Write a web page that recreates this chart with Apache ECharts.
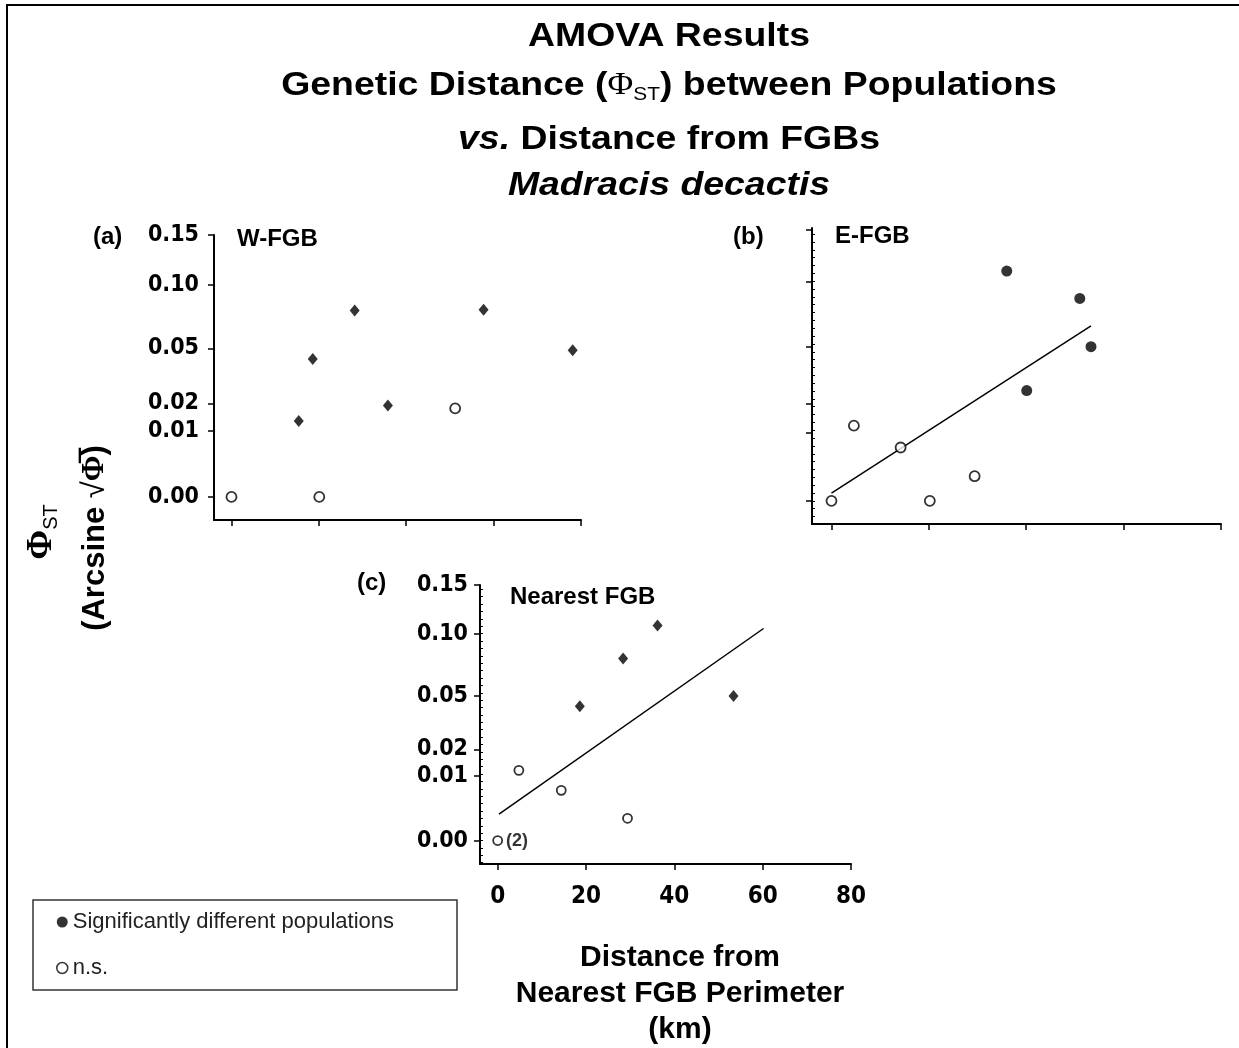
<!DOCTYPE html>
<html>
<head>
<meta charset="utf-8">
<title>AMOVA Results – Madracis decactis</title>
<script src="https://cdn.jsdelivr.net/npm/echarts@6/dist/echarts.min.js"></script>
<style>
  html, body { margin: 0; padding: 0; background: #fff; }
  #chart { width: 1239px; height: 1048px; }
</style>
</head>
<body>
<div id="chart"></div>
<script>
// Distance from FGB perimeter (km) and pairwise Φst per population, three panels.
const xTicks = [0, 20, 40, 60, 80];
const xTickLabels = ['0', '20', '40', '60', '80'];
const yTickValues = [0, 0.01, 0.02, 0.05, 0.10, 0.15];
const yTickLabels = ['0.00', '0.01', '0.02', '0.05', '0.10', '0.15'];

// (a) W-FGB
const wSigX   = [15.4, 18.6, 28.2, 35.8, 57.7, 78.1];
const wSigPhi = [0.0132, 0.0433, 0.0780, 0.0192, 0.0787, 0.0488];
const wNsX    = [0, 20.1, 51.2];
const wNsPhi  = [0, 0, 0.0180];

// (b) E-FGB
const eSigX   = [36.0, 40.1, 51.0, 53.3];
const eSigPhi = [0.1092, 0.0259, 0.0855, 0.0502];
const eNsX    = [0, 4.6, 14.2, 20.2, 29.4];
const eNsPhi  = [0, 0.0121, 0.0061, 0, 0.0013];
const eTrendX   = [0, 53.3];
const eTrendPhi = [0.00013, 0.0643];

// (c) Nearest FGB
const nSigX   = [18.6, 28.4, 36.2, 53.4];
const nSigPhi = [0.0431, 0.0781, 0.1078, 0.0497];
const nNsX    = [0, 4.8, 14.4, 29.4];
const nNsPhi  = [0, 0.0119, 0.0061, 0.0012];
const nNsNote = ['(2)', '', '', ''];
const nTrendX   = [0.3, 60.2];
const nTrendPhi = [0.0017, 0.105];

const SIG = 'Significantly different populations';
const NS = 'n.s.';

const FONT = "'Liberation Sans', Arial, Helvetica, sans-serif";
const SERIF = "'Liberation Serif', 'Times New Roman', serif";
const NARROW = "'Liberation Sans Narrow', 'Arial Narrow', 'DejaVu Sans Condensed', sans-serif";

// Φst is plotted on the arcsine square-root scale
const asr = v => Math.asin(Math.sqrt(v));
const pairs = (xs, ys) => xs.map((x, i) => [x, asr(ys[i])]);

const majorY = yTickValues.map(asr);
const yLabelFor = value => {
  const i = majorY.findIndex(t => Math.abs(t - value) < 1e-6);
  return i >= 0 ? yTickLabels[i] : '';
};
const xLabelFor = value => {
  const i = xTicks.indexOf(value);
  return i >= 0 ? xTickLabels[i] : '';
};

function minorTicks(min, max, step) {
  const out = [];
  for (let v = 0; v >= min; v -= step) out.unshift(v);
  for (let v = step; v <= max; v += step) out.push(v);
  return out;
}

const axisLine = { onZero: false, lineStyle: { color: '#000', width: 2 } };

function yMain(gridIndex, min, max, showLabels, margin) {
  return {
    type: 'value', gridIndex, min, max, position: 'left',
    axisLine,
    splitLine: { show: false },
    axisTick: { show: true, length: 6, customValues: majorY, lineStyle: { color: '#000', width: 1.5 } },
    axisLabel: {
      show: showLabels, customValues: majorY, formatter: yLabelFor, margin,
      fontFamily: NARROW, fontWeight: 'bold', fontSize: 23, color: '#000'
    }
  };
}
function yMinor(gridIndex, min, max) {
  return {
    type: 'value', gridIndex, min, max, position: 'left', offset: 0,
    axisLine: { show: false, onZero: false },
    splitLine: { show: false },
    axisLabel: { show: false },
    axisTick: { show: true, inside: true, length: 3, customValues: minorTicks(min, max, 0.0115),
      lineStyle: { color: '#000', width: 1 } }
  };
}
function xMain(gridIndex, showLabels) {
  return {
    type: 'value', gridIndex, min: -4, max: 80,
    axisLine,
    splitLine: { show: false },
    axisTick: { show: true, length: 6, customValues: xTicks, lineStyle: { color: '#000', width: 1.5 } },
    axisLabel: {
      show: showLabels, customValues: xTicks, formatter: xLabelFor, margin: 21,
      fontFamily: NARROW, fontWeight: 'bold', fontSize: 24, color: '#000'
    }
  };
}

const filled = { color: '#000' };
const open = { color: '#fff', borderColor: '#000', borderWidth: 1.8 };

function scatter(name, xi, yi, data, symbol, size, style, extra) {
  return Object.assign({
    type: 'scatter', name, xAxisIndex: xi, yAxisIndex: yi, data,
    symbol, symbolSize: size, itemStyle: style, z: 5, silent: true
  }, extra || {});
}
function trend(xi, yi, xs, ys) {
  return {
    type: 'line', xAxisIndex: xi, yAxisIndex: yi, data: pairs(xs, ys),
    symbol: 'none', lineStyle: { color: '#000', width: 1.5 }, z: 3, silent: true
  };
}

const Y15 = asr(0.15);

const option = {
  backgroundColor: '#fff',
  animation: false,
  grid: [
    { left: 214, top: 235, width: 367, height: 285 },
    { left: 812, top: 228, width: 409, height: 296 },
    { left: 480, top: 585, width: 371, height: 279 }
  ],
  xAxis: [xMain(0, false), xMain(1, false), xMain(2, true)],
  yAxis: [
    yMain(0, -0.035, Y15, true, 15),
    yMain(1, -0.034, 0.40, false, 12),
    yMinor(1, -0.034, 0.40),
    yMain(2, -0.0365, Y15, true, 12),
    yMinor(2, -0.0365, Y15)
  ],
  legend: {
    data: [
      { name: SIG, icon: 'circle', itemStyle: { color: '#000' } },
      { name: NS, icon: 'circle', itemStyle: { color: '#fff', borderColor: '#000', borderWidth: 1.5 } }
    ],
    orient: 'vertical', left: 33, top: 900,
    itemWidth: 11, itemHeight: 11, itemGap: 24,
    padding: [11, 63, 11, 23],
    borderColor: '#333', borderWidth: 1.5,
    selectedMode: false,
    textStyle: { fontFamily: FONT, fontSize: 22, color: '#222' }
  },
  series: [
    // (a)
    scatter(SIG, 0, 0, pairs(wSigX, wSigPhi), 'diamond', [10, 12], filled),
    scatter(NS, 0, 0, pairs(wNsX, wNsPhi), 'circle', 10, open),
    // (b)
    trend(1, 1, eTrendX, eTrendPhi),
    scatter(SIG, 1, 1, pairs(eSigX, eSigPhi), 'circle', 11, filled),
    scatter(NS, 1, 1, pairs(eNsX, eNsPhi), 'circle', 10, open),
    // (c)
    trend(2, 3, nTrendX, nTrendPhi),
    scatter(SIG, 2, 3, pairs(nSigX, nSigPhi), 'diamond', [10, 12], filled),
    scatter(NS, 2, 3, pairs(nNsX, nNsPhi), 'circle', 9, open, {
      label: {
        show: true, position: 'right', distance: 3,
        formatter: p => nNsNote[p.dataIndex],
        fontFamily: FONT, fontWeight: 'bold', fontSize: 18, color: '#000'
      }
    })
  ],
  graphic: [
    // frame
    { type: 'rect', shape: { x: 7, y: 5, width: 1400, height: 1200 },
      style: { fill: 'none', stroke: '#000', lineWidth: 2 }, z: -1, silent: true },
    // titles
    { type: 'text', x: 669, y: 37, scaleX: 1.1,
      style: { text: 'AMOVA Results', align: 'center', verticalAlign: 'middle',
        font: 'bold 34px ' + FONT, fill: '#000' } },
    { type: 'text', x: 669, y: 86, scaleX: 1.1,
      style: {
        text: '{t|Genetic Distance (}{p|Φ}{s|ST}{t|) between Populations}',
        align: 'center', verticalAlign: 'middle', fill: '#000',
        rich: {
          t: { fontFamily: FONT, fontWeight: 'bold', fontSize: 34 },
          p: { fontFamily: SERIF, fontWeight: 'normal', fontSize: 32 },
          s: { fontFamily: FONT, fontWeight: 'normal', fontSize: 19, padding: [17, 0, 0, 0] }
        }
      } },
    { type: 'text', x: 669, y: 140, scaleX: 1.1,
      style: {
        text: '{i|vs.}{t| Distance from FGBs}',
        align: 'center', verticalAlign: 'middle', fill: '#000',
        rich: {
          i: { fontFamily: FONT, fontWeight: 'bold', fontStyle: 'italic', fontSize: 34 },
          t: { fontFamily: FONT, fontWeight: 'bold', fontSize: 34 }
        }
      } },
    { type: 'text', x: 669, y: 186, scaleX: 1.1,
      style: { text: 'Madracis decactis', align: 'center', verticalAlign: 'middle',
        font: 'italic bold 34px ' + FONT, fill: '#000' } },
    // panel labels
    { type: 'text', x: 93, y: 237, style: { text: '(a)', verticalAlign: 'middle', font: 'bold 24px ' + FONT, fill: '#000' } },
    { type: 'text', x: 237, y: 239, style: { text: 'W-FGB', verticalAlign: 'middle', font: 'bold 24px ' + FONT, fill: '#000' } },
    { type: 'text', x: 733, y: 237, style: { text: '(b)', verticalAlign: 'middle', font: 'bold 24px ' + FONT, fill: '#000' } },
    { type: 'text', x: 835, y: 236, style: { text: 'E-FGB', verticalAlign: 'middle', font: 'bold 24px ' + FONT, fill: '#000' } },
    { type: 'text', x: 357, y: 583, style: { text: '(c)', verticalAlign: 'middle', font: 'bold 24px ' + FONT, fill: '#000' } },
    { type: 'text', x: 510, y: 597, style: { text: 'Nearest FGB', verticalAlign: 'middle', font: 'bold 24px ' + FONT, fill: '#000' } },
    // y axis title
    { type: 'text', x: 42, y: 532, rotation: Math.PI / 2,
      style: {
        text: '{p|Φ}{s|ST}', align: 'center', verticalAlign: 'middle', fill: '#000',
        rich: {
          p: { fontFamily: SERIF, fontWeight: 'bold', fontSize: 36 },
          s: { fontFamily: FONT, fontWeight: 'normal', fontSize: 20, padding: [18, 0, 0, 0] }
        }
      } },
    { type: 'text', x: 95, y: 538, rotation: Math.PI / 2,
      style: {
        text: '{t|(Arcsine }{r|√}{p|Φ\u0305}{t|)}', align: 'center', verticalAlign: 'middle', fill: '#000',
        rich: {
          t: { fontFamily: FONT, fontWeight: 'bold', fontSize: 31 },
          r: { fontFamily: FONT, fontWeight: 'normal', fontSize: 31, color: '#666' },
          p: { fontFamily: SERIF, fontWeight: 'bold', fontSize: 31 }
        }
      } },
    // x axis title
    { type: 'text', x: 680, y: 958,
      style: { text: 'Distance from', align: 'center', verticalAlign: 'middle', font: 'bold 30px ' + FONT, fill: '#000' } },
    { type: 'text', x: 680, y: 994,
      style: { text: 'Nearest FGB Perimeter', align: 'center', verticalAlign: 'middle', font: 'bold 30px ' + FONT, fill: '#000' } },
    { type: 'text', x: 680, y: 1030,
      style: { text: '(km)', align: 'center', verticalAlign: 'middle', font: 'bold 30px ' + FONT, fill: '#000' } }
  ]
};

const chart = echarts.init(document.getElementById('chart'), null, { renderer: 'canvas' });
chart.setOption(option);
</script>
</body>
</html>
